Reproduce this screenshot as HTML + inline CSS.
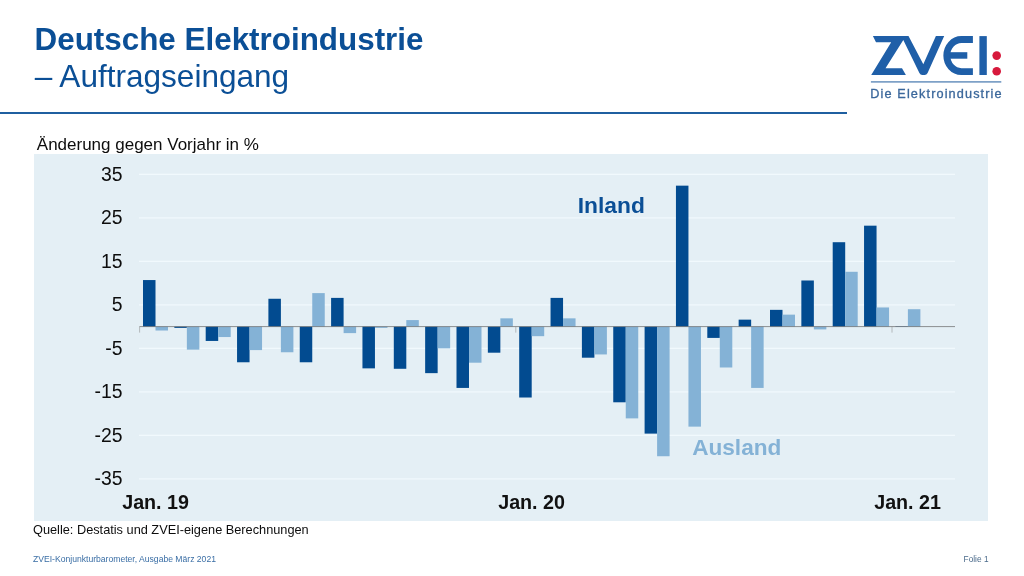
<!DOCTYPE html>
<html><head><meta charset="utf-8"><title>ZVEI</title>
<style>
html,body{margin:0;padding:0;background:#fff;}
body{will-change:transform;width:1024px;height:576px;position:relative;overflow:hidden;font-family:"Liberation Sans",sans-serif;}
.abs{position:absolute;white-space:nowrap;}
svg text{font-family:"Liberation Sans",sans-serif;}
</style></head><body>
<div class="abs" style="left:34.5px;top:20.9px;font-size:31.4px;line-height:37.5px;color:#0B4F96;font-weight:bold;">Deutsche Elektroindustrie</div>
<div class="abs" style="left:34.8px;top:58.4px;font-size:31.55px;line-height:37.5px;color:#0B4F96;">– Auftragseingang</div>
<div class="abs" style="left:0;top:112.2px;width:847px;height:1.6px;background:#1F5FA0;"></div>
<div class="abs" style="left:36.8px;top:135px;font-size:17px;line-height:20px;color:#0d0d0d;">Änderung gegen Vorjahr in %</div>
<div class="abs" style="left:34px;top:154px;width:953.5px;height:366.5px;background:#E4EFF5;"></div>
<svg class="abs" style="left:0;top:0" width="1024" height="576" viewBox="0 0 1024 576">
<line x1="139" x2="955" y1="174.35" y2="174.35" stroke="#F1F9FD" stroke-width="1.3"/>
<line x1="139" x2="955" y1="217.85" y2="217.85" stroke="#F1F9FD" stroke-width="1.3"/>
<line x1="139" x2="955" y1="261.35" y2="261.35" stroke="#F1F9FD" stroke-width="1.3"/>
<line x1="139" x2="955" y1="304.85" y2="304.85" stroke="#F1F9FD" stroke-width="1.3"/>
<line x1="139" x2="955" y1="348.35" y2="348.35" stroke="#F1F9FD" stroke-width="1.3"/>
<line x1="139" x2="955" y1="391.85" y2="391.85" stroke="#F1F9FD" stroke-width="1.3"/>
<line x1="139" x2="955" y1="435.35" y2="435.35" stroke="#F1F9FD" stroke-width="1.3"/>
<line x1="139" x2="955" y1="478.85" y2="478.85" stroke="#F1F9FD" stroke-width="1.3"/>
<rect x="143.00" y="280.06" width="12.5" height="46.54" fill="#024B90"/>
<rect x="155.50" y="326.60" width="12.5" height="3.91" fill="#84B2D6"/>
<rect x="174.35" y="326.60" width="12.5" height="1.30" fill="#024B90"/>
<rect x="186.85" y="326.60" width="12.5" height="23.05" fill="#84B2D6"/>
<rect x="205.70" y="326.60" width="12.5" height="14.35" fill="#024B90"/>
<rect x="218.20" y="326.60" width="12.5" height="10.44" fill="#84B2D6"/>
<rect x="237.05" y="326.60" width="12.5" height="35.67" fill="#024B90"/>
<rect x="249.55" y="326.60" width="12.5" height="23.49" fill="#84B2D6"/>
<rect x="268.40" y="298.76" width="12.5" height="27.84" fill="#024B90"/>
<rect x="280.90" y="326.60" width="12.5" height="25.66" fill="#84B2D6"/>
<rect x="299.75" y="326.60" width="12.5" height="35.67" fill="#024B90"/>
<rect x="312.25" y="293.11" width="12.5" height="33.49" fill="#84B2D6"/>
<rect x="331.10" y="297.89" width="12.5" height="28.71" fill="#024B90"/>
<rect x="343.60" y="326.60" width="12.5" height="6.52" fill="#84B2D6"/>
<rect x="362.45" y="326.60" width="12.5" height="41.76" fill="#024B90"/>
<rect x="374.95" y="326.60" width="12.5" height="1.30" fill="#84B2D6"/>
<rect x="393.80" y="326.60" width="12.5" height="42.19" fill="#024B90"/>
<rect x="406.30" y="320.08" width="12.5" height="6.52" fill="#84B2D6"/>
<rect x="425.15" y="326.60" width="12.5" height="46.54" fill="#024B90"/>
<rect x="437.65" y="326.60" width="12.5" height="21.75" fill="#84B2D6"/>
<rect x="456.50" y="326.60" width="12.5" height="61.33" fill="#024B90"/>
<rect x="469.00" y="326.60" width="12.5" height="36.10" fill="#84B2D6"/>
<rect x="487.85" y="326.60" width="12.5" height="26.10" fill="#024B90"/>
<rect x="500.35" y="318.34" width="12.5" height="8.26" fill="#84B2D6"/>
<rect x="519.20" y="326.60" width="12.5" height="70.91" fill="#024B90"/>
<rect x="531.70" y="326.60" width="12.5" height="9.57" fill="#84B2D6"/>
<rect x="550.55" y="297.89" width="12.5" height="28.71" fill="#024B90"/>
<rect x="563.05" y="318.34" width="12.5" height="8.26" fill="#84B2D6"/>
<rect x="581.90" y="326.60" width="12.5" height="31.10" fill="#024B90"/>
<rect x="594.40" y="326.60" width="12.5" height="27.84" fill="#84B2D6"/>
<rect x="613.25" y="326.60" width="12.5" height="75.69" fill="#024B90"/>
<rect x="625.75" y="326.60" width="12.5" height="91.78" fill="#84B2D6"/>
<rect x="644.60" y="326.60" width="12.5" height="107.01" fill="#024B90"/>
<rect x="657.10" y="326.60" width="12.5" height="129.63" fill="#84B2D6"/>
<rect x="675.95" y="185.66" width="12.5" height="140.94" fill="#024B90"/>
<rect x="688.45" y="326.60" width="12.5" height="100.05" fill="#84B2D6"/>
<rect x="707.30" y="326.60" width="12.5" height="11.31" fill="#024B90"/>
<rect x="719.80" y="326.60" width="12.5" height="40.89" fill="#84B2D6"/>
<rect x="738.65" y="319.64" width="12.5" height="6.96" fill="#024B90"/>
<rect x="751.15" y="326.60" width="12.5" height="61.33" fill="#84B2D6"/>
<rect x="770.00" y="309.85" width="12.5" height="16.75" fill="#024B90"/>
<rect x="782.50" y="314.64" width="12.5" height="11.96" fill="#84B2D6"/>
<rect x="801.35" y="280.49" width="12.5" height="46.11" fill="#024B90"/>
<rect x="813.85" y="326.60" width="12.5" height="2.83" fill="#84B2D6"/>
<rect x="832.70" y="242.21" width="12.5" height="84.39" fill="#024B90"/>
<rect x="845.20" y="271.79" width="12.5" height="54.81" fill="#84B2D6"/>
<rect x="864.05" y="225.68" width="12.5" height="100.92" fill="#024B90"/>
<rect x="876.55" y="307.46" width="12.5" height="19.14" fill="#84B2D6"/>
<rect x="895.40" y="326.17" width="12.5" height="0.43" fill="#024B90"/>
<rect x="907.90" y="309.20" width="12.5" height="17.40" fill="#84B2D6"/>
<line x1="139.5" x2="955" y1="326.6" y2="326.6" stroke="#6e6e6e" stroke-width="0.75"/>
<line x1="139.60" x2="139.60" y1="326.6" y2="332.6" stroke="#8c8c8c" stroke-width="0.55"/>
<line x1="515.80" x2="515.80" y1="326.6" y2="332.6" stroke="#8c8c8c" stroke-width="0.55"/>
<line x1="892.00" x2="892.00" y1="326.6" y2="332.6" stroke="#8c8c8c" stroke-width="0.55"/>
<text x="122.5" y="180.75" text-anchor="end" font-size="19.4" fill="#0d0d0d">35</text>
<text x="122.5" y="224.25" text-anchor="end" font-size="19.4" fill="#0d0d0d">25</text>
<text x="122.5" y="267.75" text-anchor="end" font-size="19.4" fill="#0d0d0d">15</text>
<text x="122.5" y="311.25" text-anchor="end" font-size="19.4" fill="#0d0d0d">5</text>
<text x="122.5" y="354.75" text-anchor="end" font-size="19.4" fill="#0d0d0d">-5</text>
<text x="122.5" y="398.25" text-anchor="end" font-size="19.4" fill="#0d0d0d">-15</text>
<text x="122.5" y="441.75" text-anchor="end" font-size="19.4" fill="#0d0d0d">-25</text>
<text x="122.5" y="485.25" text-anchor="end" font-size="19.4" fill="#0d0d0d">-35</text>
<text x="122.2" y="508.8" font-size="19.7" font-weight="bold" fill="#111">Jan. 19</text>
<text x="498.2" y="508.8" font-size="19.7" font-weight="bold" fill="#111">Jan. 20</text>
<text x="874.2" y="508.8" font-size="19.7" font-weight="bold" fill="#111">Jan. 21</text>
<text x="577.7" y="213" font-size="22.8" font-weight="bold" fill="#0B4F96">Inland</text>
<text x="692.2" y="455.4" font-size="22.6" font-weight="bold" fill="#84B2D6">Ausland</text>
</svg>
<div class="abs" style="left:33px;top:521.8px;font-size:12.76px;line-height:16px;color:#0d0d0d;">Quelle: Destatis und ZVEI-eigene Berechnungen</div>
<div class="abs" style="left:33px;top:554px;font-size:8.6px;line-height:11px;color:#3A6EA5;">ZVEI-Konjunkturbarometer, Ausgabe März 2021</div>
<div class="abs" style="left:963.6px;top:554.1px;font-size:8.3px;line-height:11px;color:#4A6A8A;">Folie 1</div>
<svg class="abs" style="left:0;top:0" width="1024" height="576" viewBox="0 0 1024 576">
<g fill="#1F5FA8">
<path d="M872.9 36.1 H908.5 L923.3 64.3 L935.9 36.1 H944.2 L927.6 73 Q926.6 75 924.6 75 H922.2 Q920.4 75 919.4 73 L903.3 40 L885.5 68.2 H902 L905.9 75 H871.2 L891.2 42.15 H876 Z"/>
<path d="M972.9 39.5 H961.4 A14.6 16.05 0 0 0 961.4 71.6 H972.9" fill="none" stroke="#1F5FA8" stroke-width="6.9"/>
<rect x="949.4" y="52.2" width="17.9" height="6.5"/>
<rect x="979.4" y="36.1" width="7.4" height="38.9"/>
<rect x="870.9" y="81.2" width="130.4" height="1.4" fill="#5F8ABA"/>
</g>
<circle cx="996.7" cy="55.6" r="4.3" fill="#D7193C"/>
<circle cx="996.7" cy="71.2" r="4.3" fill="#D7193C"/>
<text x="870.3" y="97.8" font-size="12.7" letter-spacing="1.12" fill="#3A679B" stroke="#3A679B" stroke-width="0.3">Die Elektroindustrie</text>
</svg>

</body></html>
